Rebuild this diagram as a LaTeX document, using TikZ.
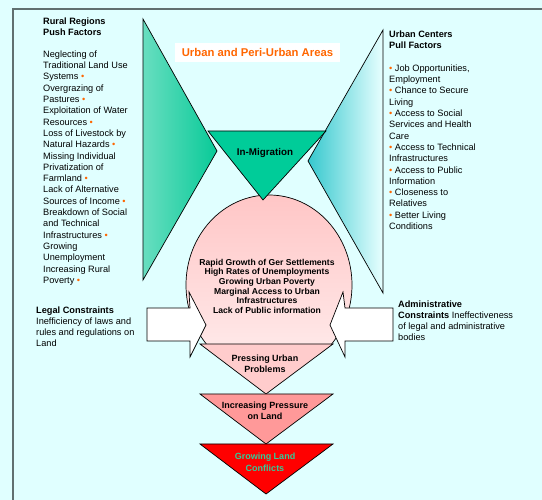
\documentclass[tikz,border=0pt]{standalone}
\usepackage{fontspec}
\setmainfont{Liberation Sans}
\usepackage{tikz}
\usetikzlibrary{positioning}
\definecolor{bgcyan}{RGB}{224,255,255}
\definecolor{framegray}{RGB}{96,112,112}
\definecolor{fanlight}{RGB}{104,222,192}
\definecolor{fandark}{RGB}{8,202,152}
\definecolor{migteal}{RGB}{0,204,153}
\definecolor{pullcyan}{RGB}{54,200,206}
\definecolor{pullpale}{RGB}{232,255,255}
\definecolor{probtop}{RGB}{255,198,198}
\definecolor{probbot}{RGB}{255,238,238}
\definecolor{presspink}{RGB}{255,204,204}
\definecolor{presssalmon}{RGB}{255,153,153}
\definecolor{conflred}{RGB}{255,0,0}
\definecolor{conflgreen}{RGB}{51,204,153}
\definecolor{bulorange}{RGB}{255,102,0}
\newcommand\obul{\textcolor{bulorange}{\textbullet}}
\tikzset{outl/.style = {draw=black, line width=0.7pt}}
\tikzset{body/.style = {font=\fontsize{9.2}{11.3}\selectfont, align=left,
                        anchor=north west, inner sep=0}}
\tikzset{head/.style = {body, font=\fontsize{9.2}{11.6}\selectfont\bfseries}}
\tikzset{probtext/.style = {font=\fontsize{8.6}{9.65}\selectfont\bfseries,
                            align=center, anchor=north, inner sep=0}}
\tikzset{tritext/.style = {font=\fontsize{9}{11}\selectfont\bfseries,
                           align=center, anchor=north, inner sep=0}}
\begin{document}
\begin{tikzpicture}[x=1pt, y=-1pt]
    \useasboundingbox (0,0) rectangle (542,500);
    % Background and frame
    \fill[bgcyan] (0,0) rectangle (542,500);
    \draw[framegray, line width=1.5pt] (542,9) -- (13,9) -- (13,500);

    % Push and pull fans
    \coordinate (pushtop) at (143,19);
    \coordinate (pushtip) at (217,151);
    \coordinate (pushbot) at (143,280);
    \coordinate (pulltop) at (383,30);
    \coordinate (pulltip) at (308,161);
    \coordinate (pullbot) at (383,293);
    \shade[left color=fanlight, right color=fandark]
        (pushtop) -- (pushtip) -- (pushbot) -- cycle;
    \draw[outl] (pushtop) -- (pushtip) -- (pushbot) -- cycle;
    \shade[left color=pullcyan, right color=pullpale]
        (pulltop) -- (pulltip) -- (pullbot) -- cycle;
    \draw[outl] (pulltop) -- (pulltip) -- (pullbot) -- cycle;

    % Urban problems
    \begin{scope}
      \clip (0,0) rectangle (542,344);
      \shade[top color=probtop, bottom color=probbot]
          (269,285) ellipse [x radius=83, y radius=90];
      \draw[outl] (269,285) ellipse [x radius=83, y radius=90];
    \end{scope}

    % Constraint arrows
    \draw[outl, fill=white] (147,308) -- (190,308) -- (189,292) -- (206,325)
        -- (190,357) -- (190,341) -- (147,341) -- cycle;
    \draw[outl, fill=white] (393,308) -- (345,308) -- (343,292) -- (330,325)
        -- (345,357) -- (345,341) -- (393,341) -- cycle;

    % Funnel triangles
    \draw[outl, fill=migteal] (208,131) -- (326,131) -- (263,200) -- cycle;
    \draw[outl, fill=presspink] (200,344) -- (333,344) -- (266,394) -- cycle;
    \draw[outl, fill=presssalmon] (200,394) -- (333,394) -- (266,444) -- cycle;
    \draw[outl, fill=conflred] (200,444) -- (333,444) -- (266,494) -- cycle;

    % Title
    \node[fill=white, minimum width=165pt, minimum height=19pt, inner sep=0,
          text=bulorange, font=\fontsize{11.3}{13}\selectfont\bfseries]
        (title) at (257.5,52.5) {Urban and Peri-Urban Areas};
    \node[font=\fontsize{9.8}{11}\selectfont\bfseries, anchor=base, inner sep=0]
        (migration) at (265,155.5) {In-Migration};

    % Push factors
    \node[head] (pushhead) at (43,17.5) {Rural Regions\\Push Factors};
    \node[body] (pushlist) at (43,50.5) {Neglecting of\\Traditional Land Use\\
        Systems \obul\\Overgrazing of\\Pastures \obul\\Exploitation of Water\\
        Resources \obul\\Loss of Livestock by\\Natural Hazards \obul\\
        Missing Individual\\Privatization of\\Farmland \obul\\
        Lack of Alternative\\Sources of Income \obul\\Breakdown of Social\\
        and Technical\\Infrastructures \obul\\Growing\\Unemployment\\
        Increasing Rural\\Poverty \obul};

    % Pull factors
    \node[head] (pullhead) at (389,30.5) {Urban Centers\\Pull Factors};
    \node[body] (pulllist) at (389,64.5) {\obul{} Job Opportunities,\\
        Employment\\\obul{} Chance to Secure\\Living\\\obul{} Access to Social\\
        Services and Health\\Care\\\obul{} Access to Technical\\Infrastructures\\
        \obul{} Access to Public\\Information\\\obul{} Closeness to\\Relatives\\
        \obul{} Better Living\\Conditions};

    % Constraints
    \node[body, font=\fontsize{9.2}{11}\selectfont] (legal) at (36,306.5)
        {\textbf{Legal Constraints}\\Inefficiency of laws and\\
        rules and regulations on\\Land};
    \node[body, font=\fontsize{9.2}{11}\selectfont] (admin) at (398,300.5)
        {\textbf{Administrative}\\\textbf{Constraints} Ineffectiveness\\
        of legal and administrative\\bodies};

    % Problem and funnel texts
    \node[probtext] (problems) at (267,258.8) {Rapid Growth of Ger Settlements\\
        High Rates of Unemployments\\Growing Urban Poverty\\
        Marginal Access to Urban\\Infrastructures\\Lack of Public information};
    \node[tritext] (pressing) at (265,354.5) {Pressing Urban\\Problems};
    \node[tritext] (pressure) at (265,401.5) {Increasing Pressure\\on Land};
    \node[tritext, text=conflgreen, font=\fontsize{9}{12.5}\selectfont\bfseries]
        (conflicts) at (265,452.5) {Growing Land\\Conflicts};
  \end{tikzpicture}
\end{document}
